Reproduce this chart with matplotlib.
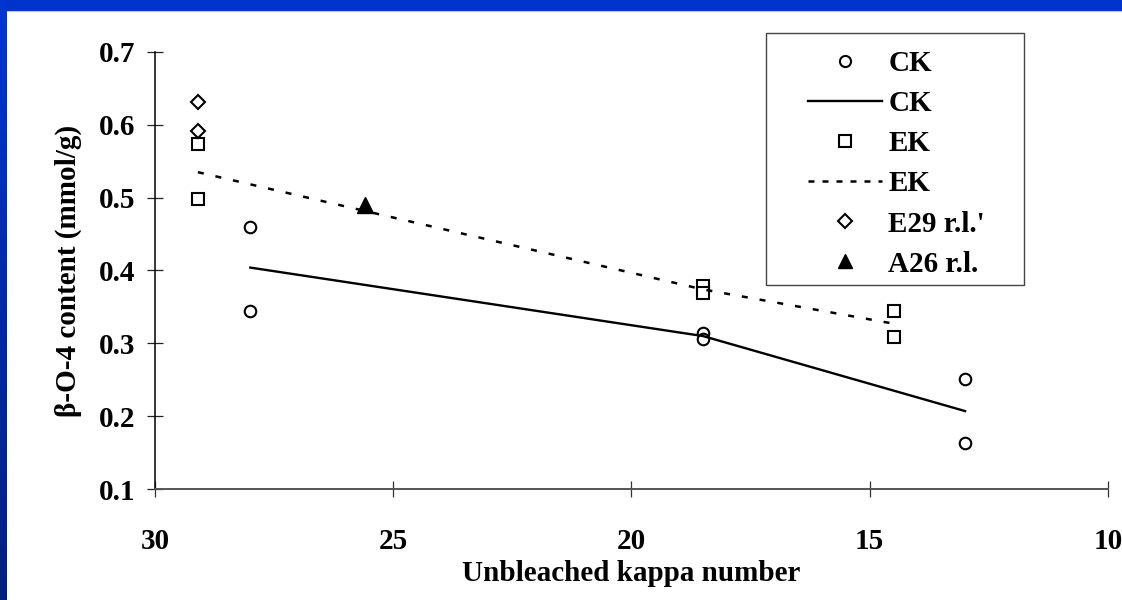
import numpy as np
import matplotlib.pyplot as plt
from matplotlib.patches import Rectangle
from matplotlib.lines import Line2D
from matplotlib.colors import LinearSegmentedColormap

# values
ck_kappa = [28, 28, 18.5, 18.5, 13, 13]
ck_b04 = [0.46, 0.345, 0.314, 0.306, 0.251, 0.163]
ck_line_kappa = [28, 18.5, 13]
ck_line_b04 = [0.404, 0.31, 0.207]

ek_kappa = [29.1, 29.1, 18.5, 18.5, 14.5, 14.5]
ek_b04 = [0.573, 0.498, 0.379, 0.369, 0.344, 0.309]
ek_line_kappa = [29.1, 18.5, 14.5]
ek_line_b04 = [0.535, 0.374, 0.327]

e29_kappa = [29.1, 29.1]
e29_b04 = [0.631, 0.591]

a26_kappa = [25.6]
a26_b04 = [0.49]

x_ticks = [30, 25, 20, 15, 10]
y_ticks = [0.1, 0.2, 0.3, 0.4, 0.5, 0.6, 0.7]

plt.rcParams['font.family'] = ['Liberation Serif', 'DejaVu Serif']
plt.rcParams['font.weight'] = 'bold'
FS = 21

W, H = 1122, 600
fig = plt.figure(figsize=(W / 100, H / 100), dpi=100)
fig.patch.set_facecolor('white')

# blue slide border (top band + left gradient)
fig.add_artist(Rectangle((0, 1 - 10 / H), 1, 10 / H, transform=fig.transFigure,
                         color='#0033cc', zorder=0))
fig.add_artist(Line2D([7 / W, 1], [1 - 10.5 / H, 1 - 10.5 / H], transform=fig.transFigure,
                      color='#b8c4ee', lw=0.8))
gax = fig.add_axes([0, 0, 7 / W, 1])
grad = np.linspace(0, 1, 256).reshape(-1, 1)
cmap = LinearSegmentedColormap.from_list('border', ['#0036d0', '#001f82'])
gax.imshow(grad, aspect='auto', cmap=cmap)
gax.axis('off')

ax = fig.add_axes([155 / W, 1 - 489 / H, (1108 - 155) / W, (489 - 52) / H])
ax.set_facecolor('none')

ax.plot(ck_kappa, ck_b04, 'o', ms=8.3, mfc='white', mec='black', mew=1.5, ls='none')
ax.plot(ck_line_kappa, ck_line_b04, '-', color='black', lw=1.7)
ax.plot(ek_kappa, ek_b04, 's', ms=9, mfc='white', mec='black', mew=1.5, ls='none')
ax.plot(ek_line_kappa, ek_line_b04, color='black', lw=1.8, ls=(0, (2.4, 4.8)))
ax.plot(e29_kappa, e29_b04, 'D', ms=7.5, mfc='white', mec='black', mew=1.5, ls='none')
ax.plot(a26_kappa, a26_b04, '^', ms=11, color='black', ls='none')

ax.set_xlim(30, 10)
ax.set_ylim(0.1, 0.7)
ax.set_xticks(x_ticks)
ax.set_yticks(y_ticks)
ax.set_xticklabels([str(v) for v in x_ticks])
ax.set_yticklabels(['%.1f' % v for v in y_ticks])
for s in ['top', 'right']:
    ax.spines[s].set_visible(False)
ax.spines['left'].set_color('black')
ax.spines['left'].set_linewidth(1.1)
ax.spines['bottom'].set_color('#555555')
ax.spines['bottom'].set_linewidth(1.4)
ax.tick_params(axis='y', direction='inout', length=11.5, width=0.9, color='#222222',
               pad=8.5, labelsize=FS)
ax.tick_params(axis='x', direction='inout', length=11.5, width=0.9, color='#333333',
               pad=22, labelsize=FS)
for lab in ax.get_xticklabels() + ax.get_yticklabels():
    lab.set_fontweight('bold')

ax.set_xlabel('Unbleached kappa number', fontsize=FS, fontweight='bold', labelpad=4)
ax.set_ylabel('\u03b2-O-4 content (mmol/g)', fontsize=FS, fontweight='bold', labelpad=12)

# legend
handles = [
    Line2D([], [], marker='o', ms=8, mfc='white', mec='black', mew=1.5, ls='none'),
    Line2D([], [], color='black', lw=1.7),
    Line2D([], [], marker='s', ms=8.5, mfc='white', mec='black', mew=1.5, ls='none'),
    Line2D([], [], color='black', lw=1.8, ls=(0, (2.4, 3.2))),
    Line2D([], [], marker='D', ms=7, mfc='white', mec='black', mew=1.5, ls='none'),
    Line2D([], [], marker='^', ms=10, color='black', ls='none'),
]
labels = ['CK', 'CK', 'EK', 'EK', "E29 r.l.'", 'A26 r.l.']
fig.add_artist(Rectangle((766 / W, 1 - 285 / H), (1024 - 766) / W, (285 - 33) / H,
                         transform=fig.transFigure, fill=False, ec='#444444', lw=1.0))
ax.legend(handles, labels, loc='upper left', bbox_to_anchor=(808 / W, 1 - 50 / H),
          bbox_transform=fig.transFigure, frameon=False, borderpad=0, borderaxespad=0,
          handlelength=2.55, handletextpad=0.2, labelspacing=0.45,
          prop={'size': FS, 'weight': 'bold'})

fig.savefig('out.png', dpi=100)
